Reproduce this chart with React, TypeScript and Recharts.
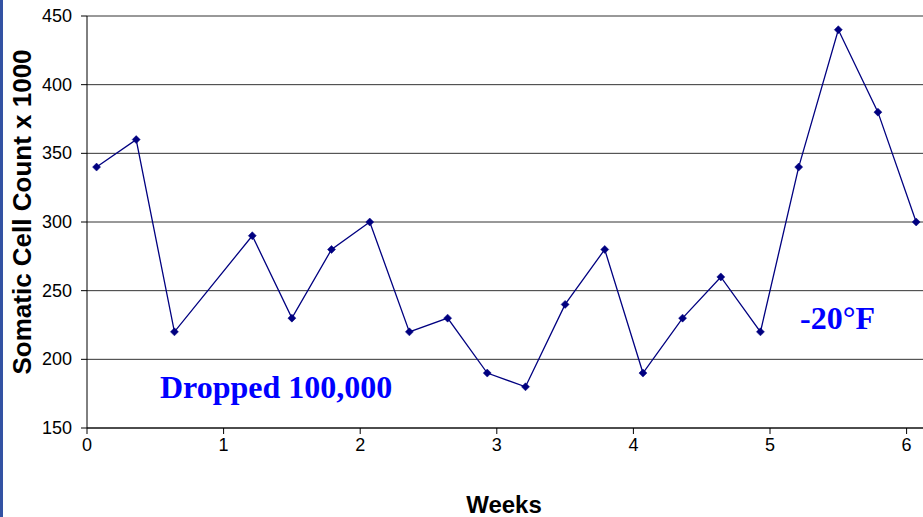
import React from 'react'
import {
  LineChart,
  Line,
  XAxis,
  YAxis,
  CartesianGrid,
} from 'recharts'

const weeks = [0.07, 0.36, 0.64, 1.21, 1.5, 1.79, 2.07, 2.36, 2.64, 2.93, 3.21, 3.5, 3.79, 4.07, 4.36, 4.64, 4.93, 5.21, 5.5, 5.79, 6.07]
const scc = [340, 360, 220, 290, 230, 280, 300, 220, 230, 190, 180, 240, 280, 190, 230, 260, 220, 340, 440, 380, 300]
const xTicks = [0, 1, 2, 3, 4, 5, 6]
const yTicks = [150, 200, 250, 300, 350, 400, 450]

const data = weeks.map((w, i) => ({ week: w, scc: scc[i] }))

const NAVY = '#000080'
const SANS = 'Arial, "Liberation Sans", sans-serif'

function Diamond(props: any) {
  const { cx, cy } = props
  if (cx == null || cy == null) return null
  const r = 4
  return (
    <polygon
      points={`${cx},${cy - r} ${cx + r},${cy} ${cx},${cy + r} ${cx - r},${cy}`}
      fill={NAVY}
      stroke={NAVY}
      strokeWidth={0.5}
    />
  )
}

function XTick(props: any) {
  const { x, y, payload } = props
  return (
    <text x={x} y={y + 15} textAnchor="middle" fontSize={18} fontFamily={SANS} fill="#000">
      {payload.value}
    </text>
  )
}

function YTick(props: any) {
  const { x, y, payload } = props
  return (
    <text x={x - 7} y={y + 6} textAnchor="end" fontSize={18} fontFamily={SANS} fill="#000">
      {payload.value}
    </text>
  )
}

export default function App() {
  return (
    <div style={{ position: 'relative', width: 923, height: 517, background: '#fff', overflow: 'hidden' }}>
      <style>{'body{margin:0}'}</style>
      <div style={{ position: 'absolute', left: 0, top: 0, width: 3, height: 517, background: '#3352a3' }} />
      <LineChart
        width={923}
        height={517}
        data={data}
        margin={{ top: 16, right: 0, bottom: 59, left: 0 }}
      >
        <CartesianGrid horizontal vertical={false} stroke="#333" strokeWidth={1} />
        <XAxis
          dataKey="week"
          type="number"
          domain={[0, 6.12]}
          ticks={xTicks}
          allowDataOverflow
          tick={<XTick />}
          tickLine={{ stroke: '#000' }}
          axisLine={{ stroke: '#000' }}
          tickSize={6}
          height={30}
        />
        <YAxis
          type="number"
          domain={[150, 450]}
          ticks={yTicks}
          width={87}
          tick={<YTick />}
          tickLine={{ stroke: '#000' }}
          axisLine={{ stroke: '#000' }}
          tickSize={6}
        />
        <Line
          dataKey="scc"
          stroke={NAVY}
          strokeWidth={1.3}
          dot={<Diamond />}
          activeDot={false}
          isAnimationActive={false}
        />
      </LineChart>
      <div
        style={{
          position: 'absolute',
          left: 22,
          top: 212,
          transform: 'translate(-50%, -50%) rotate(-90deg)',
          whiteSpace: 'nowrap',
          fontFamily: SANS,
          fontWeight: 'bold',
          fontSize: 26,
          color: '#000',
        }}
      >
        Somatic Cell Count x 1000
      </div>
      <div
        style={{
          position: 'absolute',
          left: 504,
          top: 505,
          transform: 'translate(-50%, -50%)',
          whiteSpace: 'nowrap',
          fontFamily: SANS,
          fontWeight: 'bold',
          fontSize: 24,
          color: '#000',
        }}
      >
        Weeks
      </div>
      <div
        style={{
          position: 'absolute',
          left: 160,
          top: 369,
          whiteSpace: 'nowrap',
          fontFamily: '"Liberation Serif", "Times New Roman", serif',
          fontWeight: 'bold',
          fontSize: 32,
          color: '#0000ff',
        }}
      >
        Dropped 100,000
      </div>
      <div
        style={{
          position: 'absolute',
          left: 800,
          top: 300,
          whiteSpace: 'nowrap',
          fontFamily: '"Liberation Serif", "Times New Roman", serif',
          fontWeight: 'bold',
          fontSize: 32,
          color: '#0000ff',
        }}
      >
        -20°F
      </div>
    </div>
  )
}
